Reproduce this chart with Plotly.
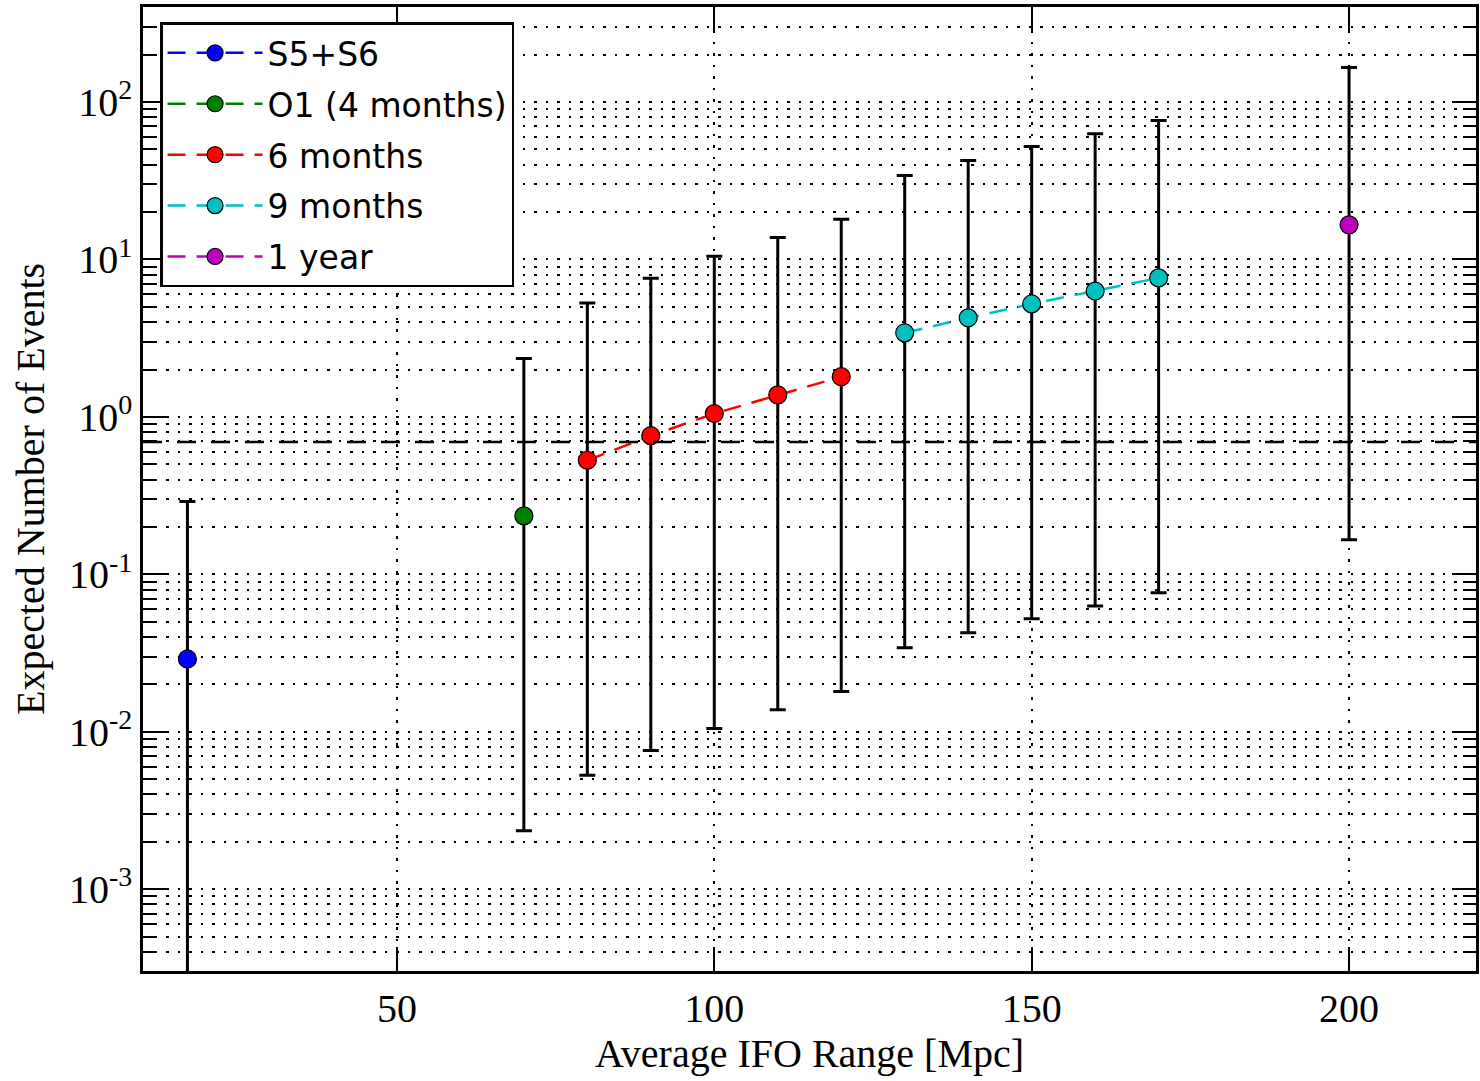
import numpy as np
import plotly.graph_objects as go

# ---- data ----
series_names = ["S5+S6", "O1 (4 months)", "6 months", "9 months", "1 year"]
series_colors = ["#0000ff", "#007f00", "#ff0000", "#00bfbf", "#bf00bf"]

x_s56 = [17]
y_s56 = [0.029]
up_s56 = [0.29]
lo_s56 = [0.00029]

x_o1 = [70]
y_o1 = [0.235]
up_o1 = [2.35]
lo_o1 = [0.00235]

x_6m = [80, 90, 100, 110, 120]
y_6m = [0.53, 0.76, 1.05, 1.38, 1.80]
up_6m = [5.3, 7.6, 10.5, 13.8, 18.0]
lo_6m = [0.0053, 0.0076, 0.0105, 0.0138, 0.0180]

x_9m = [130, 140, 150, 160, 170]
y_9m = [3.42, 4.26, 5.22, 6.3, 7.64]
up_9m = [34.2, 42.6, 52.2, 63.0, 76.4]
lo_9m = [0.0342, 0.0426, 0.0522, 0.063, 0.0764]

x_1y = [200]
y_1y = [16.6]
up_1y = [166]
lo_1y = [0.166]

threshold = 0.693  # horizontal dashed line

x_ticks = [50, 100, 150, 200]
y_major = [1e-3, 1e-2, 1e-1, 1e0, 1e1, 1e2]
y_major_text = ["10<sup>-3</sup>", "10<sup>-2</sup>", "10<sup>-1</sup>",
                "10<sup>0</sup>", "10<sup>1</sup>", "10<sup>2</sup>"]
x_range = [10, 220]
y_range_log = [-3.52, 2.604]

# ---- figure ----
all_series = [
    (x_s56, y_s56, up_s56, lo_s56),
    (x_o1, y_o1, up_o1, lo_o1),
    (x_6m, y_6m, up_6m, lo_6m),
    (x_9m, y_9m, up_9m, lo_9m),
    (x_1y, y_1y, up_1y, lo_1y),
]

fig = go.Figure()
for i, (xs, ys, ups, los) in enumerate(all_series):
    ys_a = np.array(ys)
    fig.add_trace(go.Scatter(
        x=xs, y=ys, mode="lines+markers", name=series_names[i],
        legendgroup=f"g{i}",
        line=dict(color=series_colors[i], width=2.5, dash="18px,11px"),
        marker=dict(color=series_colors[i], size=18,
                    line=dict(color="black", width=1.2)),
        error_y=dict(type="data", symmetric=False,
                     array=list(np.array(ups) - ys_a),
                     arrayminus=list(ys_a - np.array(los)),
                     color="black", thickness=3, width=8),
    ))

fig.add_shape(type="line", xref="paper", x0=0, x1=1, yref="y",
              y0=threshold, y1=threshold,
              line=dict(color="black", width=2.5, dash="19px,15px"),
              layer="above")

minor_vals = [m * 10.0 ** k for k in range(-4, 3) for m in range(2, 10)]

serif = "Liberation Serif, Times New Roman, serif"
grid_dash = "2.5px,9px"
fig.update_layout(
    width=1480, height=1081,
    margin=dict(l=143, r=1, t=7, b=110),
    paper_bgcolor="white", plot_bgcolor="white",
    font=dict(family=serif, size=40, color="black"),
    showlegend=True,
    legend=dict(x=0.0128, y=0.984, xanchor="left", yanchor="top",
                bgcolor="white", bordercolor="black", borderwidth=2.5,
                font=dict(family="DejaVu Sans", size=33, color="black"),
                tracegroupgap=5, itemwidth=95),
    xaxis=dict(
        range=x_range, tickvals=x_ticks, ticks="inside", ticklen=24,
        tickwidth=1.5, tickcolor="black",
        showline=True, linecolor="black", linewidth=2.5, mirror="allticks",
        showgrid=True, gridcolor="black", griddash=grid_dash, gridwidth=1.5,
        zeroline=False,
        title=dict(text="Average IFO Range [Mpc]", standoff=10,
                   font=dict(family=serif, size=40)),
        tickfont=dict(family=serif, size=40),
    ),
    yaxis=dict(
        type="log", range=y_range_log, tickvals=y_major, ticktext=y_major_text,
        ticks="inside", ticklen=24, tickwidth=1.5, tickcolor="black",
        showline=True, linecolor="black", linewidth=2.5, mirror="allticks",
        showgrid=True, gridcolor="black", griddash=grid_dash, gridwidth=1.5,
        zeroline=False,
        minor=dict(tickmode="array", tickvals=minor_vals, ticks="inside",
                   ticklen=13, tickwidth=1.5, tickcolor="black",
                   showgrid=True, gridcolor="black", griddash=grid_dash,
                   gridwidth=1.5),
        tickfont=dict(family=serif, size=40),
    ),
    annotations=[dict(
        text="Expected Number of Events", textangle=-90,
        xref="paper", yref="paper", x=0, y=0.5,
        xanchor="center", yanchor="middle", xshift=-113, showarrow=False,
        font=dict(family=serif, size=40, color="black"),
    )],
)

fig.write_html(
    "out.html",
    config={"displayModeBar": False},
    post_script="document.body.style.margin='0';document.body.style.overflow='hidden';",
)
